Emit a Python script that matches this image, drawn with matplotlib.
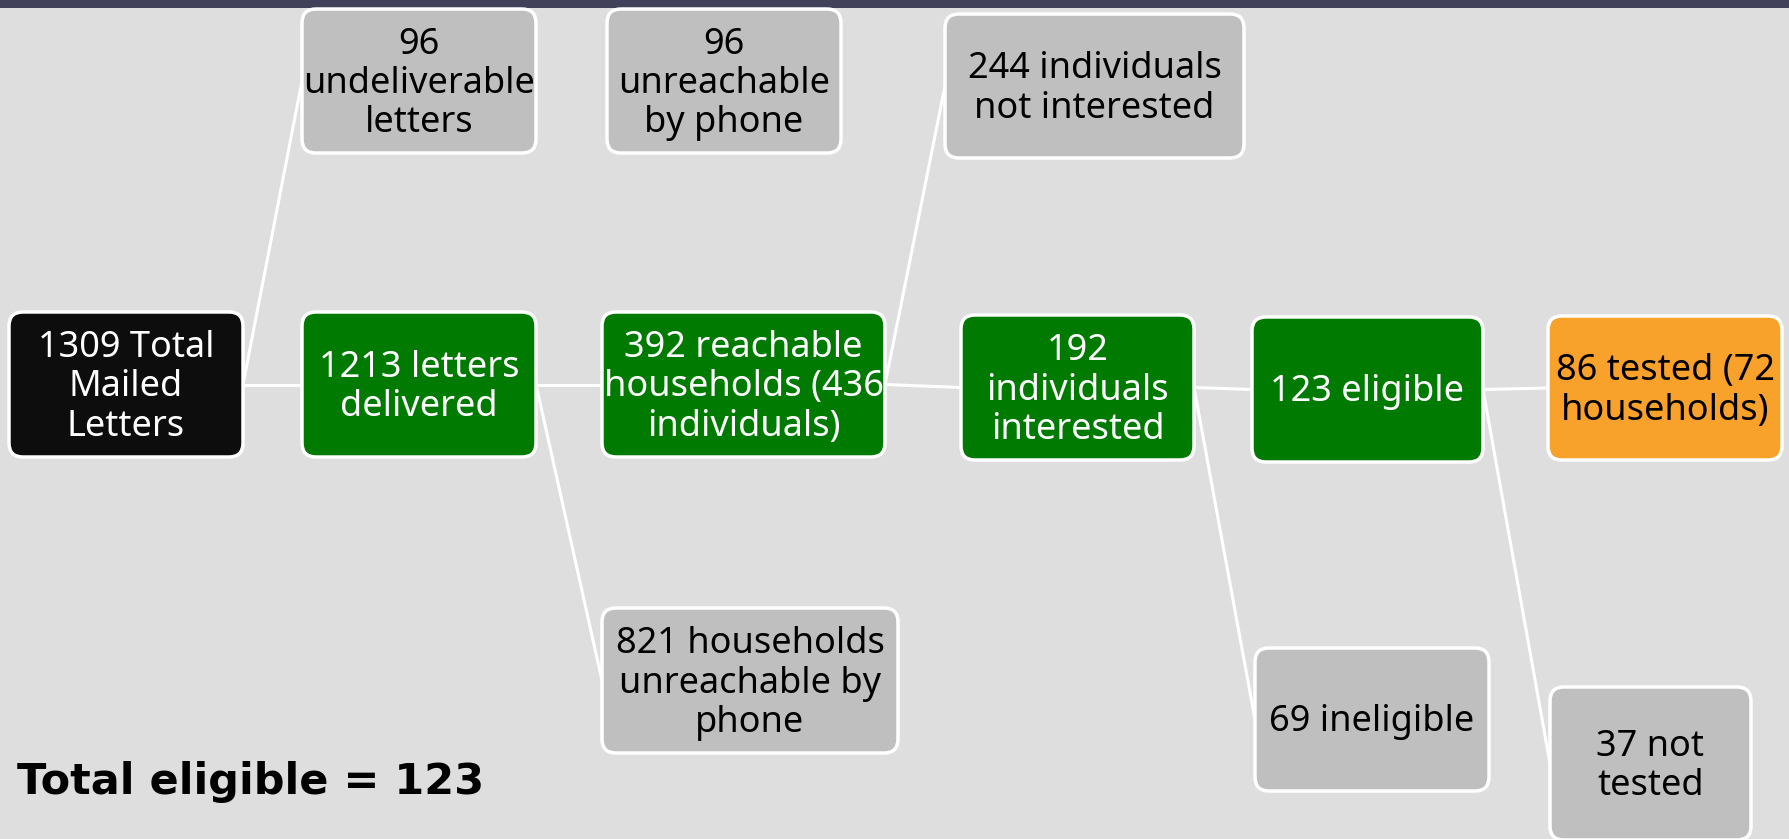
import matplotlib
matplotlib.use("Agg")
import matplotlib.pyplot as plt
from matplotlib.patches import FancyBboxPatch, Rectangle
from matplotlib import font_manager

# ---------------- data ----------------
node_labels = [
    "1309 Total\nMailed\nLetters",
    "96\nundeliverable\nletters",
    "1213 letters\ndelivered",
    "96\nunreachable\nby phone",
    "392 reachable\nhouseholds (436\nindividuals)",
    "821 households\nunreachable by\nphone",
    "244 individuals\nnot interested",
    "192\nindividuals\ninterested",
    "69 ineligible",
    "123 eligible",
    "86 tested (72\nhouseholds)",
    "37 not\ntested",
]
node_kind = ["start", "out", "keep", "out", "keep", "out",
             "out", "keep", "out", "keep", "final", "out"]
edges = [(0, 1), (0, 2), (2, 4), (2, 5), (4, 6), (4, 7),
         (7, 8), (7, 9), (9, 10), (9, 11)]
summary_text = "Total eligible = 123"

# ---------------- layout (pixels) ----------------
boxes = [
    (9, 312, 243, 457),
    (302, 9, 536, 153),
    (302, 312, 536, 457),
    (607, 9, 841, 153),
    (602, 312, 885, 457),
    (602, 608, 898, 753),
    (945, 14, 1244, 158),
    (961, 315, 1194, 460),
    (1255, 648, 1489, 791),
    (1252, 317, 1483, 462),
    (1548, 316, 1782, 460),
    (1550, 687, 1751, 840),
]
fill = {"start": "#0d0d0d", "out": "#bfbfbf", "keep": "#007a00", "final": "#f8a12b"}
tcol = {"start": "white", "out": "black", "keep": "white", "final": "black"}

avail = {f.name for f in font_manager.fontManager.ttflist}
fam = "Noto Sans" if "Noto Sans" in avail else "DejaVu Sans"

W, H = 1789, 839
fig = plt.figure(figsize=(W / 100, H / 100), dpi=100)
fig.patch.set_facecolor("#dedede")
ax = fig.add_axes([0, 0, 1, 1])
ax.set_xlim(0, W)
ax.set_ylim(H, 0)
ax.axis("off")
ax.set_facecolor("#dedede")

# top dark bar
ax.add_patch(Rectangle((0, 0), W, 8, facecolor="#41425a", edgecolor="none", zorder=1))

def right_mid(b):
    return b[2], (b[1] + b[3]) / 2

def left_mid(b):
    return b[0], (b[1] + b[3]) / 2

for a, b in edges:
    x0, y0 = right_mid(boxes[a])
    x1, y1 = left_mid(boxes[b])
    ax.plot([x0, x1], [y0, y1], color="white", lw=2.2, zorder=2, solid_capstyle="butt")

for lab, kind, b in zip(node_labels, node_kind, boxes):
    x0, y0, x1, y1 = b
    p = FancyBboxPatch((x0, y0), x1 - x0, y1 - y0,
                       boxstyle="round,pad=0,rounding_size=14",
                       facecolor=fill[kind], edgecolor="white", lw=2.5, zorder=3)
    ax.add_patch(p)
    ax.text((x0 + x1) / 2, (y0 + y1) / 2 + 3, lab, ha="center", va="center",
            color=tcol[kind], fontsize=26, family=fam, linespacing=1.12, zorder=4)

ax.text(17, 782, summary_text, ha="left", va="center", fontsize=31,
        fontweight="bold", family="DejaVu Sans", color="black", zorder=4)

fig.savefig("out.png", dpi=100, facecolor=fig.get_facecolor())
